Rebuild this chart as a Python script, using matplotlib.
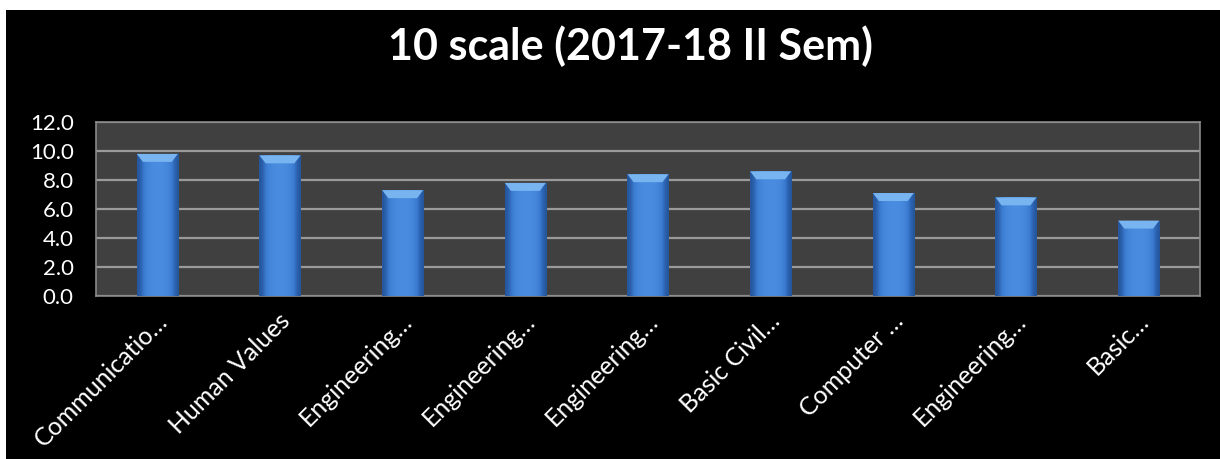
import matplotlib
matplotlib.use("Agg")
import matplotlib.pyplot as plt
import matplotlib.transforms as mtransforms
from matplotlib.patches import Rectangle, Polygon
from matplotlib.colors import LinearSegmentedColormap
import numpy as np

categories = ["Communicatio…", "Human Values", "Engineering…", "Engineering…",
              "Engineering…", "Basic Civil…", "Computer …", "Engineering…", "Basic…"]
values = [9.8, 9.7, 7.3, 7.8, 8.4, 8.6, 7.1, 6.8, 5.2]
yticks = [0.0, 2.0, 4.0, 6.0, 8.0, 10.0, 12.0]
title = "10 scale (2017-18 II Sem)"

W, H = 1220, 459
fig = plt.figure(figsize=(W / 100, H / 100), dpi=100, facecolor="white")
fig.patches.append(Rectangle((6 / W, 0), 1 - 6 / W, (H - 10) / H,
                             transform=fig.transFigure, facecolor="black",
                             edgecolor="none", zorder=-10))

ax = fig.add_axes([96 / W, (H - 296) / H, (1200 - 96) / W, (296 - 122) / H])
ax.set_zorder(2)
ax.set_facecolor("#404040")
font = "Lato"

x = np.arange(len(categories))
bars = ax.bar(x, values, width=0.335, color="#3d7fd6", edgecolor="none", zorder=3)

grad = np.array([[0.0, 0.6, 0.9, 1.0, 1.0, 0.9, 0.6, 0.0]])
cmap = LinearSegmentedColormap.from_list("b", ["#24559c", "#3b7cd2", "#4a8de0"])
for b in bars:
    x0, y0 = b.get_x(), b.get_y()
    w, h = b.get_width(), b.get_height()
    im = ax.imshow(grad, cmap=cmap, extent=[x0, x0 + w, y0, y0 + h],
                   aspect="auto", zorder=4, interpolation="bicubic")
    im.set_clip_path(b)
    bh = 0.55
    dx = w * 0.15
    top = y0 + h
    ax.add_patch(Polygon([(x0, top), (x0 + w, top), (x0 + w - dx, top - bh),
                          (x0 + dx, top - bh)], closed=True,
                         facecolor="#78b4f0", edgecolor="none", zorder=5))

ax.set_xlim(-0.5, len(categories) - 0.5)
ax.set_ylim(0, 12)
ax.set_yticks(yticks)
ax.set_yticklabels([f"{v:.1f}" for v in yticks], fontsize=16, color="white",
                   family=font)
ax.yaxis.grid(True, color="#9a9a9a", linewidth=1.6, zorder=1)
ax.set_axisbelow(True)
ax.tick_params(axis="y", length=0, pad=16)
ax.tick_params(axis="x", length=0, pad=4)
ax.set_xticks(x)
ax.set_xticklabels(categories, rotation=45, ha="right", va="center",
                   rotation_mode="anchor", fontsize=18, color="white",
                   family=font)
offset = mtransforms.ScaledTranslation(6 / 100, -16 / 100, fig.dpi_scale_trans)
for lbl in ax.get_xticklabels():
    lbl.set_transform(lbl.get_transform() + offset)
for s in ax.spines.values():
    s.set_color("#8a8a8a")
    s.set_linewidth(1.2)

fig.text(630 / W, (H - 46) / H, title, ha="center", va="center", color="white",
         fontsize=31, fontweight="bold", family=font)

fig.savefig("out.png", dpi=100, facecolor="white")
